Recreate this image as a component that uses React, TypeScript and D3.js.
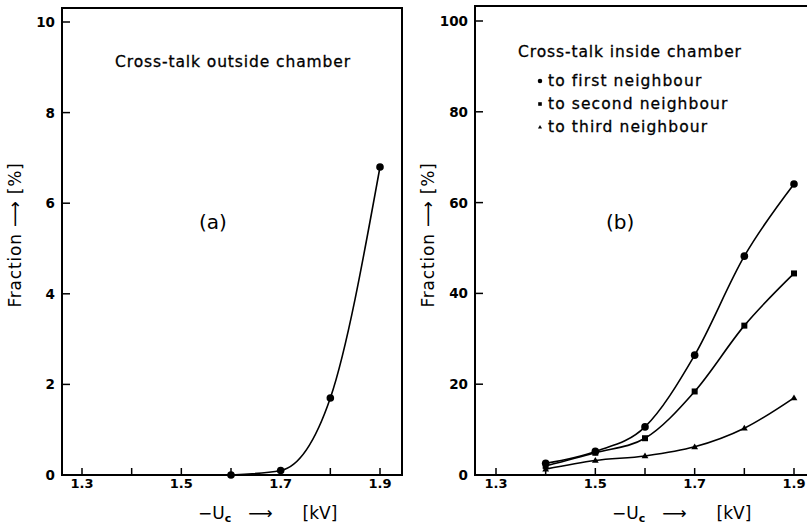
import * as d3 from 'd3';

// panel (a): cross-talk outside chamber
const voltsA = [1.6, 1.7, 1.8, 1.9];
const outside = [0, 0.1, 1.7, 6.8];

// panel (b): cross-talk inside chamber
const voltsB = [1.4, 1.5, 1.6, 1.7, 1.8, 1.9];
const firstNb = [2.6, 5.2, 10.6, 26.4, 48.2, 64.1];
const secondNb = [2.0, 4.9, 8.1, 18.4, 32.9, 44.4];
const thirdNb = [1.3, 3.2, 4.2, 6.2, 10.3, 17.0];

const xTicks = [1.3, 1.4, 1.5, 1.6, 1.7, 1.8, 1.9];
const xLabels = ['1.3', '1.5', '1.7', '1.9'];
const yTicksA = [0, 2, 4, 6, 8, 10];
const yTicksB = [0, 20, 40, 60, 80, 100];
const legendB = ['to first neighbour', 'to second neighbour', 'to third neighbour'];

const FONT = "'DejaVu Sans', Verdana, sans-serif";

function Marker({ kind, cx, cy, s = 1 }) {
  if (kind === 'square') {
    const h = 3 * s;
    return <rect x={cx - h} y={cy - h} width={2 * h} height={2 * h} fill="#000" />;
  }
  if (kind === 'triangle') {
    const h = 3.4 * s;
    return (
      <path
        d={`M${cx},${cy - h} L${cx + h},${cy + h * 0.7} L${cx - h},${cy + h * 0.7} Z`}
        fill="#000"
      />
    );
  }
  return <circle cx={cx} cy={cy} r={3.8 * s} fill="#000" />;
}

function Panel({ frameLeft, frameRight, frameTop, xr, yr, yTicks, series, ytitleX, label, title }) {
  const x = d3.scaleLinear().domain([1.3, 1.9]).range(xr);
  const y = d3.scaleLinear().domain([0, yTicks[yTicks.length - 1]]).range(yr);
  const bottom = y(0);
  const line = d3.line<number>().curve(d3.curveMonotoneX);

  return (
    <g fontFamily={FONT}>
      <path
        d={`M${frameLeft},${frameTop} H${frameRight} V${bottom} H${frameLeft} Z`}
        fill="none"
        stroke="#000"
        strokeWidth="2"
      />
      {xTicks.map((t) => (
        <line key={t} x1={x(t)} x2={x(t)} y1={bottom} y2={bottom - 7} stroke="#000" strokeWidth="1.5" />
      ))}
      {xLabels.map((t) => (
        <text key={t} x={x(+t)} y={bottom + 13} textAnchor="middle" fontSize="13" fontWeight="bold">
          {t}
        </text>
      ))}
      {yTicks.map((t) => (
        <g key={t}>
          <line x1={frameLeft} x2={frameLeft + 8} y1={y(t)} y2={y(t)} stroke="#000" strokeWidth="1.5" />
          <text x={frameLeft - 7} y={y(t) + 5} textAnchor="end" fontSize="13.5" fontWeight="bold">
            {t}
          </text>
        </g>
      ))}
      <text
        transform={`translate(${ytitleX},235) rotate(-90)`}
        textAnchor="middle"
        fontSize="17"
        letterSpacing="0.8"
      >
        Fraction <tspan fontSize="18">{'\u27F6'}</tspan> [%]
      </text>
      <text x={x(1.3) + 116} y={519} fontSize="17">
        {'\u2212'}U<tspan fontSize="11" dy="3" fontWeight="bold">c</tspan>
        <tspan dy="-3" dx="17">{'\u27F6'}</tspan>
        <tspan dx="30">[kV]</tspan>
      </text>
      {series.map((s, i) => (
        <g key={i}>
          <path
            d={line(s.vals.map((v, j) => [x(s.xs[j]), y(v)]) as any)}
            fill="none"
            stroke="#000"
            strokeWidth="1.6"
          />
          {s.vals.map((v, j) => (
            <Marker key={j} kind={s.kind} cx={x(s.xs[j])} cy={y(v)} />
          ))}
        </g>
      ))}
      <text x={label.x} y={label.y} fontSize="20">
        {label.text}
      </text>
      <text x={title.x} y={title.y} fontSize="15.5" letterSpacing="0.9" stroke="#000" strokeWidth="0.3">
        {title.text}
      </text>
      {title.legend &&
        title.legend.map((t, i) => (
          <g key={t}>
            <Marker
              kind={['circle', 'square', 'triangle'][i]}
              cx={title.x + 22}
              cy={title.y + 24 + i * 23}
              s={0.6}
            />
            <text
              x={title.x + 30}
              y={title.y + 29 + i * 23}
              fontSize="15.5"
              letterSpacing="1.1"
              stroke="#000"
              strokeWidth="0.3"
            >
              {t}
            </text>
          </g>
        ))}
    </g>
  );
}

export default function App() {
  return (
    <svg width={807} height={527} style={{ display: 'block', position: 'absolute', left: 0, top: 0 }}>
      <rect width={807} height={527} fill="#fff" />
      <Panel
        frameLeft={62}
        frameRight={402}
        frameTop={8}
        xr={[82, 380]}
        yr={[475, 22]}
        yTicks={yTicksA}
        ytitleX={21}
        series={[{ xs: voltsA, vals: outside, kind: 'circle' }]}
        label={{ x: 199, y: 229, text: '(a)' }}
        title={{ x: 115, y: 67, text: 'Cross-talk outside chamber' }}
      />
      <Panel
        frameLeft={475}
        frameRight={840}
        frameTop={6}
        xr={[496, 794]}
        yr={[475, 21]}
        yTicks={yTicksB}
        ytitleX={434}
        series={[
          { xs: voltsB, vals: firstNb, kind: 'circle' },
          { xs: voltsB, vals: secondNb, kind: 'square' },
          { xs: voltsB, vals: thirdNb, kind: 'triangle' },
        ]}
        label={{ x: 606, y: 229, text: '(b)' }}
        title={{ x: 518, y: 57, text: 'Cross-talk inside chamber', legend: legendB }}
      />
    </svg>
  );
}
